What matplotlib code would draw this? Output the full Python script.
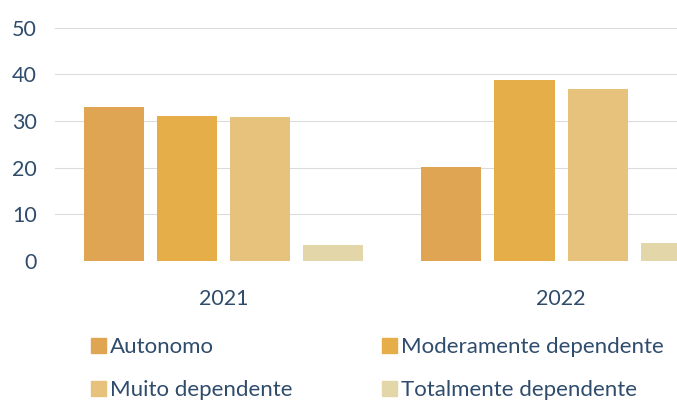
import numpy as np
import matplotlib.pyplot as plt
from matplotlib.patches import Patch

plt.rcParams['font.family'] = ['Lato', 'DejaVu Sans']

# data
years = ['2021', '2022']
series = ['Autonomo', 'Moderamente dependente', 'Muito dependente', 'Totalmente dependente']
autonomo = [33.1, 20.2]
moderamente = [31.0, 38.8]
muito = [30.8, 36.9]
totalmente = [3.5, 3.8]
colors = ['#DFA552', '#E6AE48', '#E6C27C', '#E3D6A8']

text_col = '#2F4C6C'

fig = plt.figure(figsize=(6.77, 4.04), dpi=100)
ax = fig.add_axes([0.081, 0.354, 0.997, 0.577])

x = np.arange(len(years))
step = 0.2166
width = 0.178
values = [autonomo, moderamente, muito, totalmente]
for i, (vals, c) in enumerate(zip(values, colors)):
    ax.bar(x + (i - 1.5) * step, vals, width, color=c, zorder=2)

ax.set_xlim(-0.5, 1.5)
ax.set_ylim(0, 50)
ax.set_yticks(range(0, 51, 10))
ax.yaxis.grid(True, color='#DCDCDC', lw=0.8, zorder=0)
ax.set_xticks(x)
ax.set_xticklabels(years)
ax.tick_params(axis='both', length=0, colors=text_col, labelsize=15.5)
ax.tick_params(axis='x', pad=20)
ax.tick_params(axis='y', pad=13)
for s in ax.spines.values():
    s.set_visible(False)

# legend, row-wise: A | Moderamente / Muito | Totalmente
order = [0, 2, 1, 3]
handles = [Patch(color=colors[i], label=series[i]) for i in order]
fig.legend(handles=handles, ncol=2, loc='upper left',
           bbox_to_anchor=(0.105, 0.215), frameon=False,
           fontsize=16, labelcolor=text_col, handlelength=0.65,
           handleheight=0.65, handletextpad=0.2, columnspacing=4.05,
           labelspacing=1.05)

fig.savefig('out.png', dpi=100)
